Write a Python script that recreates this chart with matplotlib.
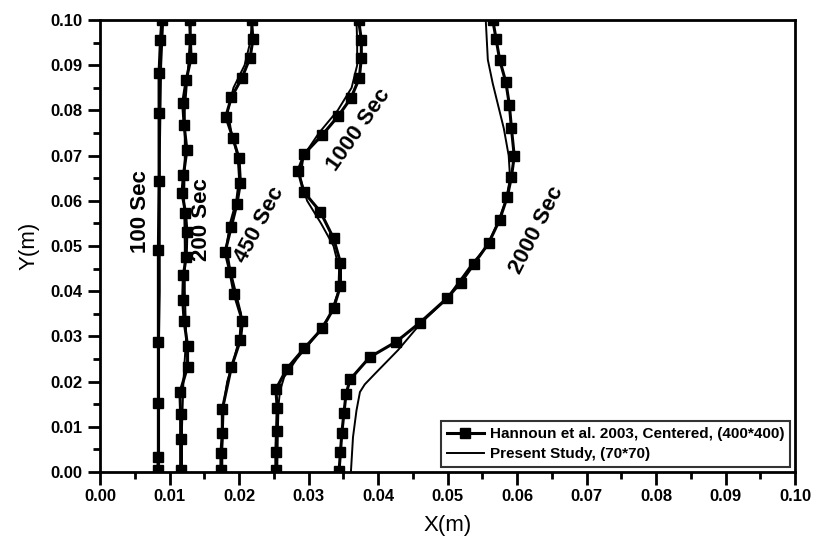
import matplotlib
matplotlib.use("Agg")
import matplotlib.pyplot as plt
from matplotlib.ticker import MultipleLocator

plt.rcParams["font.family"] = ["Liberation Sans", "DejaVu Sans"]

# Hannoun et al. 2003 (markers)
h100_x = [0.0083, 0.0084, 0.0084, 0.0084, 0.0084, 0.0085, 0.0085, 0.0085, 0.0087, 0.0089]
h100_y = [0.0004, 0.0033, 0.0153, 0.0288, 0.0491, 0.0644, 0.0794, 0.0883, 0.0956, 0.1000]

h200_x = [0.0116, 0.0116, 0.0116, 0.0115, 0.0126, 0.0126, 0.0121, 0.0119, 0.0120, 0.0124,
          0.0125, 0.0123, 0.0118, 0.0120, 0.0125, 0.0121, 0.0119, 0.0124, 0.0131, 0.0130, 0.0129]
h200_y = [0.0004, 0.0072, 0.0128, 0.0176, 0.0233, 0.0279, 0.0334, 0.0381, 0.0436, 0.0476,
          0.0532, 0.0574, 0.0617, 0.0657, 0.0712, 0.0768, 0.0817, 0.0867, 0.0916, 0.0958, 0.1000]

h450_x = [0.0174, 0.0174, 0.0176, 0.0176, 0.0189, 0.0202, 0.0205, 0.0193, 0.0187, 0.0180, 0.0189,
          0.0197, 0.0202, 0.0200, 0.0191, 0.0181, 0.0189, 0.0204, 0.0216, 0.0220, 0.0218]
h450_y = [0.0004, 0.0041, 0.0087, 0.0139, 0.0232, 0.0292, 0.0334, 0.0394, 0.0443, 0.0487, 0.0543,
          0.0593, 0.0640, 0.0694, 0.0740, 0.0786, 0.0829, 0.0871, 0.0917, 0.0957, 0.1001]

h1000_x = [0.0253, 0.0253, 0.0254, 0.0255, 0.0253, 0.0269, 0.0294, 0.0320, 0.0336, 0.0346, 0.0346,
           0.0336, 0.0317, 0.0293, 0.0285, 0.0294, 0.0320, 0.0343, 0.0361, 0.0373, 0.0376, 0.0376, 0.0372]
h1000_y = [0.0004, 0.0045, 0.0091, 0.0141, 0.0183, 0.0229, 0.0274, 0.0318, 0.0362, 0.0412, 0.0463,
           0.0517, 0.0576, 0.0620, 0.0667, 0.0704, 0.0746, 0.0788, 0.0827, 0.0871, 0.0915, 0.0956, 0.1001]

h2000_x = [0.0344, 0.0346, 0.0348, 0.0351, 0.0354, 0.0360, 0.0388, 0.0426, 0.0460, 0.0499, 0.0519,
           0.0538, 0.0559, 0.0575, 0.0586, 0.0592, 0.0596, 0.0592, 0.0589, 0.0584, 0.0575, 0.0570, 0.0565]
h2000_y = [0.0003, 0.0045, 0.0087, 0.0131, 0.0173, 0.0205, 0.0254, 0.0288, 0.0330, 0.0384, 0.0419,
           0.0460, 0.0506, 0.0558, 0.0609, 0.0653, 0.0699, 0.0760, 0.0812, 0.0862, 0.0912, 0.0957, 0.1001]

# Present Study, (70*70)
p100_x = [0.0085, 0.0085, 0.0085, 0.0085, 0.0086, 0.0086, 0.0086, 0.0086, 0.0087, 0.0088, 0.0091]
p100_y = [0.0000, 0.0100, 0.0200, 0.0300, 0.0400, 0.0500, 0.0600, 0.0700, 0.0800, 0.0900, 0.1000]

p200_x = [0.0118, 0.0118, 0.0120, 0.0124, 0.0122, 0.0122, 0.0121, 0.0122, 0.0122, 0.0127, 0.0131]
p200_y = [0.0000, 0.0100, 0.0200, 0.0300, 0.0400, 0.0500, 0.0600, 0.0700, 0.0800, 0.0900, 0.1000]

p450_x = [0.0176, 0.0176, 0.0177, 0.0178, 0.0183, 0.0193, 0.0201, 0.0203, 0.0195, 0.0187, 0.0182,
          0.0187, 0.0196, 0.0200, 0.0198, 0.0189, 0.0184, 0.0192, 0.0208, 0.0216, 0.0219]
p450_y = [0.000, 0.005, 0.010, 0.015, 0.020, 0.025, 0.030, 0.035, 0.040, 0.045, 0.050,
          0.055, 0.060, 0.065, 0.070, 0.075, 0.080, 0.085, 0.090, 0.095, 0.100]

p1000_x = [0.0255, 0.0256, 0.0257, 0.0259, 0.0265, 0.0283, 0.0310, 0.0332, 0.0343, 0.0344, 0.0336,
           0.0318, 0.0298, 0.0288, 0.0293, 0.0315, 0.0342, 0.0362, 0.0370, 0.0370, 0.0369]
p1000_y = [0.000, 0.010, 0.015, 0.018, 0.021, 0.025, 0.030, 0.035, 0.040, 0.045, 0.050,
           0.055, 0.060, 0.065, 0.070, 0.075, 0.080, 0.085, 0.090, 0.095, 0.100]

p2000_x = [0.0361, 0.0364, 0.0369, 0.0374, 0.0381, 0.0396, 0.0429, 0.0462, 0.0497, 0.0516, 0.0535,
           0.0557, 0.0572, 0.0584, 0.0590, 0.0588, 0.0581, 0.0573, 0.0565, 0.0558, 0.0555]
p2000_y = [0.0000, 0.0077, 0.0136, 0.0177, 0.0194, 0.0218, 0.0270, 0.0330, 0.0380, 0.0420, 0.0460,
           0.0500, 0.0550, 0.0600, 0.0650, 0.0700, 0.0760, 0.0810, 0.0860, 0.0912, 0.1000]

labels = ["100 Sec", "200 Sec", "450 Sec", "1000 Sec", "2000 Sec"]
label_x = [0.0058, 0.0146, 0.0229, 0.0372, 0.0628]
label_y = [0.0577, 0.0558, 0.0546, 0.0757, 0.0535]
label_rot = [90, 90, 62, 55, 63]


def main():
    fig = plt.figure(figsize=(8.15, 5.46), dpi=100)
    ax = fig.add_axes([0.1227, 0.1355, 0.8528, 0.8279])

    hannoun = [(h100_x, h100_y), (h200_x, h200_y), (h450_x, h450_y),
               (h1000_x, h1000_y), (h2000_x, h2000_y)]
    present = [(p100_x, p100_y), (p200_x, p200_y), (p450_x, p450_y),
               (p1000_x, p1000_y), (p2000_x, p2000_y)]

    for i, (x, y) in enumerate(present):
        ax.plot(x, y, color="black", lw=1.4,
                label="Present Study, (70*70)" if i == 0 else None, zorder=2)
    for i, (x, y) in enumerate(hannoun):
        ax.plot(x, y, color="black", lw=2.2, marker="s", ms=7,
                label="Hannoun et al. 2003, Centered, (400*400)" if i == 0 else None,
                zorder=3)

    for t, x, y, r in zip(labels, label_x, label_y, label_rot):
        ax.text(x, y, t, rotation=r, ha="center", va="center",
                fontsize=16, fontweight="bold")

    ax.set_xlim(0, 0.10)
    ax.set_ylim(0, 0.10)
    ax.xaxis.set_major_locator(MultipleLocator(0.01))
    ax.xaxis.set_minor_locator(MultipleLocator(0.005))
    ax.yaxis.set_major_locator(MultipleLocator(0.01))
    ax.yaxis.set_minor_locator(MultipleLocator(0.005))
    ax.xaxis.set_major_formatter(lambda v, p: f"{v:.2f}")
    ax.yaxis.set_major_formatter(lambda v, p: f"{v:.2f}")
    ax.tick_params(which="major", direction="out", length=9, width=2,
                   labelsize=12)
    ax.tick_params(which="minor", direction="out", length=5, width=2)
    for lbl in ax.get_xticklabels() + ax.get_yticklabels():
        lbl.set_fontweight("bold")
    for s in ax.spines.values():
        s.set_linewidth(2)

    ax.set_xlabel("X(m)", fontsize=16, labelpad=8)
    ax.set_ylabel("Y(m)", fontsize=16, labelpad=8)

    handles, names = ax.get_legend_handles_labels()
    leg = ax.legend(handles[::-1], names[::-1], loc="lower right",
                    prop={"weight": "bold", "size": 11}, frameon=True,
                    fancybox=False, edgecolor="black", handlelength=2.4,
                    handletextpad=0.4, borderaxespad=0.3, labelspacing=0.4)
    leg.get_frame().set_linewidth(1.5)

    fig.savefig("out.png", dpi=100)


if __name__ == "__main__":
    main()
